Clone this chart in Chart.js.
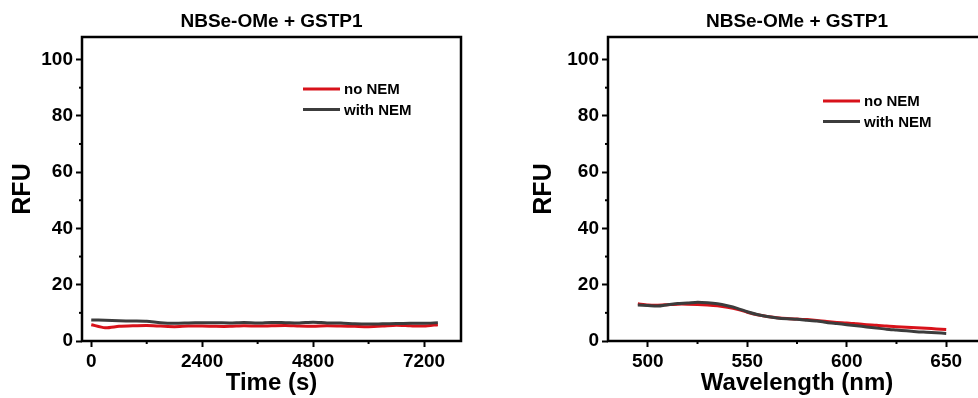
<!DOCTYPE html>
<html>
<head>
<meta charset="utf-8">
<script src="https://cdn.jsdelivr.net/npm/chart.js@4.4.1/dist/chart.umd.min.js"></script>
<style>
  html, body { margin: 0; padding: 0; background: #fff; width: 978px; height: 398px; overflow: hidden; }
  #time-chart { position: absolute; left: 0; top: 0; }
  #wl-chart { position: absolute; left: 489px; top: 0; }
</style>
</head>
<body>
<canvas id="time-chart" width="489" height="398"></canvas>
<canvas id="wl-chart" width="511" height="398"></canvas>
<script>
const TITLE = 'NBSe-OMe + GSTP1';
const SERIES_LABELS = ['no NEM', 'with NEM'];
const RFU_TICKS = [0, 20, 40, 60, 80, 100];

// left panel: kinetics
const TIME_S = [0, 300, 600, 900, 1200, 1500, 1800, 2100, 2400, 2700, 3000, 3300, 3600,
  3900, 4200, 4500, 4800, 5100, 5400, 5700, 6000, 6300, 6600, 6900, 7200, 7500];
const TIME_NO_NEM = [5.8, 4.7, 5.2, 5.4, 5.5, 5.3, 5.1, 5.3, 5.3, 5.2, 5.2, 5.4, 5.3,
  5.4, 5.5, 5.3, 5.2, 5.4, 5.3, 5.2, 5.1, 5.3, 5.6, 5.4, 5.3, 5.8];
const TIME_WITH_NEM = [7.5, 7.4, 7.2, 7.1, 7.0, 6.5, 6.3, 6.4, 6.5, 6.5, 6.4, 6.6, 6.4,
  6.6, 6.5, 6.4, 6.7, 6.4, 6.4, 6.1, 6.0, 6.1, 6.2, 6.3, 6.3, 6.5];
const TIME_TICKS = [0, 2400, 4800, 7200];

// right panel: emission spectrum
const WAVELENGTH_NM = [495, 500, 505, 510, 515, 520, 525, 530, 535, 540, 545, 550, 555, 560,
  565, 570, 575, 580, 585, 590, 595, 600, 605, 610, 615, 620, 625, 630, 635, 640, 645, 650];
const WL_NO_NEM = [13.2, 12.8, 12.7, 12.9, 13.1, 13.1, 13.0, 12.8, 12.5, 12.0, 11.3, 10.2, 9.3, 8.7,
  8.3, 8.0, 7.8, 7.6, 7.3, 6.9, 6.6, 6.4, 6.1, 5.8, 5.6, 5.3, 5.1, 4.9, 4.7, 4.5, 4.3, 4.1];
const WL_WITH_NEM = [12.8, 12.6, 12.4, 12.9, 13.3, 13.5, 13.8, 13.6, 13.2, 12.5, 11.6, 10.4, 9.4, 8.7,
  8.2, 7.9, 7.7, 7.4, 7.1, 6.6, 6.2, 5.8, 5.4, 5.0, 4.6, 4.2, 3.9, 3.6, 3.3, 3.1, 2.9, 2.7];
const WL_TICKS = [500, 550, 600, 650];

const RED = '#d8121a';
const GREY = '#3c3c3c';
const FONT = '"Liberation Sans", Arial, sans-serif';

// box around the plot plus short minor ticks half way between major ones
const frameBox = {
  id: 'frameBox',
  afterDraw(chart) {
    const { ctx, chartArea: a } = chart;
    ctx.save();
    ctx.strokeStyle = '#000';
    ctx.lineWidth = 2;
    ['x', 'y'].forEach((id) => {
      const s = chart.scales[id];
      const t = s.ticks.map((k) => k.value);
      for (let i = 0; i < t.length - 1; i++) {
        const p = s.getPixelForValue((t[i] + t[i + 1]) / 2);
        ctx.beginPath();
        if (id === 'x') { ctx.moveTo(p, a.bottom); ctx.lineTo(p, a.bottom + 3); }
        else { ctx.moveTo(a.left, p); ctx.lineTo(a.left - 3, p); }
        ctx.stroke();
      }
    });
    ctx.lineWidth = 2.5;
    ctx.strokeRect(a.left, a.top, a.right - a.left, a.bottom - a.top);
    ctx.restore();
  },
};

// legend drawn inside the plot area
const insetLegend = {
  id: 'insetLegend',
  afterDraw(chart, args, opts) {
    const { ctx, chartArea: a } = chart;
    const x0 = a.left + opts.x;
    let y = a.top + opts.y;
    ctx.save();
    ctx.font = 'bold 15px ' + FONT;
    ctx.textBaseline = 'middle';
    chart.data.datasets.forEach((ds) => {
      ctx.strokeStyle = ds.borderColor;
      ctx.lineWidth = 3;
      ctx.beginPath();
      ctx.moveTo(x0, y);
      ctx.lineTo(x0 + 37, y);
      ctx.stroke();
      ctx.fillStyle = '#000';
      ctx.fillText(ds.label, x0 + 41, y + 1);
      y += 20.5;
    });
    ctx.restore();
  },
};

function axisGrid() {
  return { drawOnChartArea: false, drawTicks: true, tickLength: 6, tickWidth: 2, tickColor: '#000' };
}

function makeChart(canvasId, xs, noNem, withNem, cfg) {
  const canvas = document.getElementById(canvasId);
  return new Chart(canvas, {
    type: 'line',
    data: {
      datasets: [
        { label: SERIES_LABELS[0], data: xs.map((x, i) => ({ x, y: noNem[i] })), borderColor: RED, order: 1 },
        { label: SERIES_LABELS[1], data: xs.map((x, i) => ({ x, y: withNem[i] })), borderColor: GREY, order: 0 },
      ],
    },
    options: {
      responsive: false,
      animation: false,
      layout: { padding: { left: 0, right: cfg.padRight, top: 0, bottom: 0 } },
      elements: {
        line: { borderWidth: 3, tension: 0.25 },
        point: { radius: 0 },
      },
      plugins: {
        legend: { display: false },
        tooltip: { enabled: false },
        title: {
          display: true,
          text: TITLE,
          fullSize: false,
          color: '#000',
          font: { family: FONT, size: 19, weight: 'bold' },
          padding: { top: 10, bottom: 4.2 },
        },
        insetLegend: cfg.legend,
      },
      scales: {
        x: {
          type: 'linear',
          min: cfg.xMin,
          max: cfg.xMax,
          afterBuildTicks: (s) => { s.ticks = cfg.xTicks.map((v) => ({ value: v })); },
          afterFit: (s) => { s.height = 57; },
          grid: axisGrid(),
          border: { display: false },
          ticks: {
            color: '#000',
            font: { family: FONT, size: 19, weight: 'bold' },
            padding: 3,
            maxRotation: 0,
            autoSkip: false,
            callback: (v) => String(v),
          },
          title: {
            display: true,
            text: cfg.xTitle,
            color: '#000',
            font: { family: FONT, size: 24, weight: 'bold' },
            padding: { top: 0, bottom: 0 },
          },
        },
        y: {
          min: 0,
          max: 108,
          afterBuildTicks: (s) => { s.ticks = RFU_TICKS.map((v) => ({ value: v })); },
          afterFit: (s) => { s.width = cfg.yWidth; },
          grid: axisGrid(),
          border: { display: false },
          ticks: {
            color: '#000',
            font: { family: FONT, size: 19, weight: 'bold' },
            padding: 3,
            callback: (v) => String(v),
          },
          title: {
            display: true,
            text: 'RFU',
            color: '#000',
            font: { family: FONT, size: 25, weight: 'bold' },
            padding: { top: cfg.yTitlePad, bottom: 0 },
          },
        },
      },
    },
    plugins: [frameBox, insetLegend],
  });
}

makeChart('time-chart', TIME_S, TIME_NO_NEM, TIME_WITH_NEM, {
  xMin: -200, xMax: 8000, xTicks: TIME_TICKS, xTitle: 'Time (s)',
  yWidth: 82, yTitlePad: 8, padRight: 28, legend: { x: 221, y: 52 },
});

makeChart('wl-chart', WAVELENGTH_NM, WL_NO_NEM, WL_WITH_NEM, {
  xMin: 480, xMax: 670, xTicks: WL_TICKS, xTitle: 'Wavelength (nm)',
  yWidth: 119, yTitlePad: 40, padRight: 14, legend: { x: 215, y: 64 },
});
</script>
</body>
</html>
